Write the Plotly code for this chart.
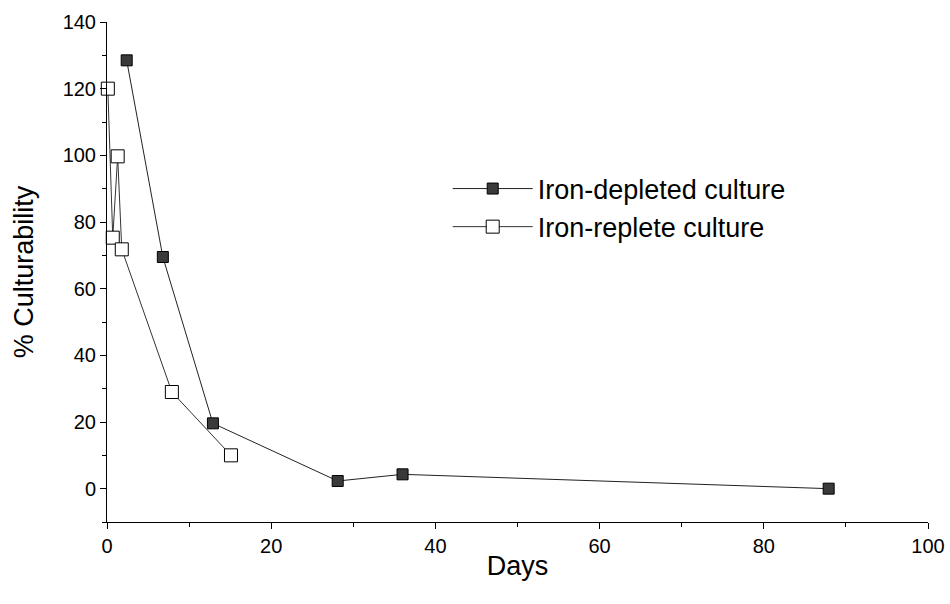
import plotly.graph_objects as go

# Culturability over time for the two culture conditions
depleted_days = [2.4, 6.8, 12.9, 28.1, 36.0, 87.9]
depleted_pct = [128.5, 69.5, 19.6, 2.3, 4.3, 0.0]

replete_days = [0.1, 0.7, 1.3, 1.8, 7.9, 15.1]
replete_pct = [120.0, 75.3, 99.7, 71.8, 29.0, 10.0]

x_ticks = [0, 20, 40, 60, 80, 100]
y_ticks = [0, 20, 40, 60, 80, 100, 120, 140]

FONT = "Liberation Sans Narrow, Arial Narrow, Liberation Sans, Arial"

fig = go.Figure()
fig.add_trace(go.Scatter(
    x=depleted_days, y=depleted_pct, mode="lines+markers",
    name="Iron-depleted culture", cliponaxis=False,
    line=dict(color="#222222", width=1),
    marker=dict(symbol="square", size=11, color="#3a3a3a",
                line=dict(color="#000000", width=1)),
))
fig.add_trace(go.Scatter(
    x=replete_days, y=replete_pct, mode="lines+markers",
    name="Iron-replete culture", cliponaxis=False,
    line=dict(color="#333333", width=1),
    marker=dict(symbol="square", size=13, color="#ffffff",
                line=dict(color="#000000", width=1)),
))

axis_common = dict(
    showgrid=False, zeroline=False, showline=True, linecolor="#000000",
    linewidth=1, ticks="outside", ticklen=6, tickcolor="#000000",
    automargin=False,
    tickfont=dict(family=FONT, size=20, color="#000000"),
    minor=dict(ticks="outside", ticklen=4, tickcolor="#000000", dtick=10),
)

fig.update_layout(
    width=950, height=604,
    margin=dict(l=107, r=22, t=22, b=82),
    paper_bgcolor="#ffffff", plot_bgcolor="#ffffff",
    showlegend=True,
    legend=dict(x=0.415, y=0.715, xanchor="left", yanchor="top",
                bgcolor="rgba(0,0,0,0)", itemwidth=80,
                font=dict(family=FONT, size=27, color="#000000")),
    xaxis=dict(range=[0, 100], tickvals=x_ticks,
               title=dict(text="Days", standoff=0,
                          font=dict(family=FONT, size=27, color="#000000")),
               **axis_common),
    yaxis=dict(range=[-10, 140], tickvals=y_ticks,
               title=dict(text="% Culturability", standoff=21,
                          font=dict(family=FONT, size=27, color="#000000")),
               **axis_common),
)

fig.write_html("out.html")
